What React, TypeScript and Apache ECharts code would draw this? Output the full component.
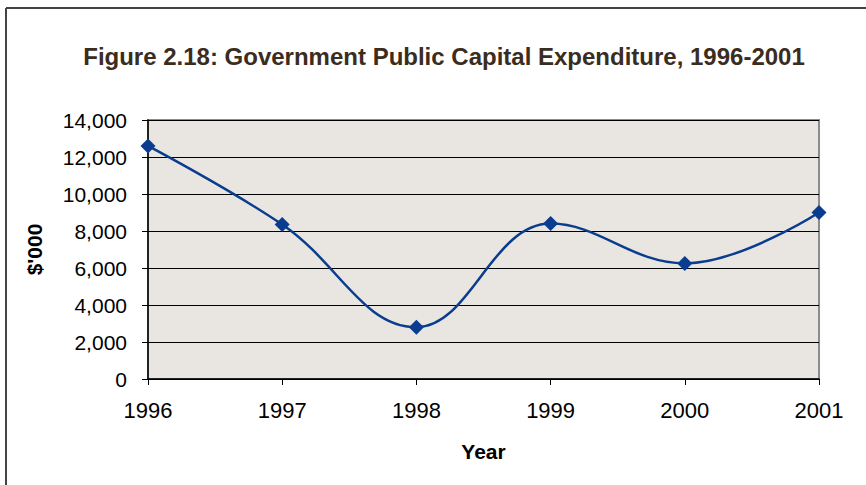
import React, { useEffect, useRef } from "react";
import * as echarts from "echarts";

const years = ["1996", "1997", "1998", "1999", "2000", "2001"];
const expenditure = [12600, 8350, 2800, 8400, 6250, 9000];
const yTicks = { min: 0, max: 14000, interval: 2000 };

export default function App() {
  const ref = useRef<HTMLDivElement>(null);
  useEffect(() => {
    if (!ref.current) return;
    const chart = echarts.init(ref.current, null, { renderer: "svg" });
    const font = "Liberation Sans, Arial, sans-serif";
    chart.setOption({
      animation: false,
      backgroundColor: "#ffffff",
      title: {
        text: "Figure 2.18: Government Public Capital Expenditure, 1996-2001",
        left: 439,
        textAlign: "center",
        top: 39,
        textStyle: { fontFamily: font, fontSize: 24, fontWeight: "bold", color: "#3b2c20" },
      },
      graphic: [
        { type: "line", shape: { x1: 6, y1: 8, x2: 6, y2: 485 }, style: { stroke: "#444", lineWidth: 2 } },
        { type: "line", shape: { x1: 6, y1: 8, x2: 866, y2: 8 }, style: { stroke: "#444", lineWidth: 2 } },
      ],
      grid: {
        left: 148,
        top: 120,
        right: 47,
        bottom: 106,
        show: true,
        backgroundColor: "#e9e5e0",
        borderColor: "#8c8c8c",
        borderWidth: 2,
      },
      xAxis: {
        type: "category",
        data: years,
        boundaryGap: false,
        name: "Year",
        nameLocation: "middle",
        nameGap: 62,
        nameTextStyle: { fontFamily: font, fontSize: 21, fontWeight: "bold", color: "#000" },
        axisLine: { lineStyle: { color: "#000", width: 1.5 } },
        axisTick: { show: true, length: 6, lineStyle: { color: "#000" } },
        axisLabel: { fontFamily: font, fontSize: 22, color: "#000", margin: 20 },
        splitLine: { show: false },
      },
      yAxis: {
        type: "value",
        min: yTicks.min,
        max: yTicks.max,
        interval: yTicks.interval,
        name: "$'000",
        nameLocation: "middle",
        nameGap: 103,
        nameRotate: 90,
        nameTextStyle: { fontFamily: font, fontSize: 21, fontWeight: "bold", color: "#000" },
        axisLine: { show: true, lineStyle: { color: "#000", width: 1.5 } },
        axisTick: { show: true, length: 6, lineStyle: { color: "#000" } },
        axisLabel: {
          fontFamily: font,
          fontSize: 21,
          color: "#000",
          margin: 21,
          formatter: (v: number) => v.toLocaleString("en-US"),
        },
        splitLine: { show: true, lineStyle: { color: "#000", width: 1 } },
      },
      series: [
        {
          type: "line",
          data: expenditure,
          smooth: 0.4,
          symbol: "diamond",
          symbolSize: 15,
          itemStyle: { color: "#0a3d8f" },
          lineStyle: { color: "#0a3d8f", width: 2.5 },
        },
      ],
    });
    return () => chart.dispose();
  }, []);
  return <div ref={ref} style={{ width: 866, height: 485, position: "absolute", left: 0, top: 0 }} />;
}
